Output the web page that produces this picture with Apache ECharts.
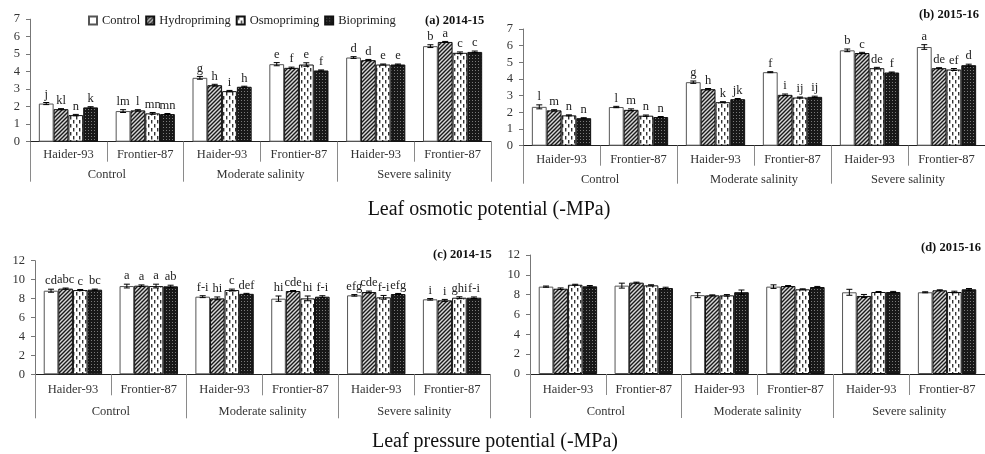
<!DOCTYPE html>
<html><head><meta charset="utf-8">
<script src="https://cdn.jsdelivr.net/npm/echarts@6/dist/echarts.min.js"></script>
<style>html,body{margin:0;padding:0;background:#fff}#c{width:985px;height:454px}</style>
</head><body><div id="c"></div>
<script>
// ---------- DATA ----------
const cultivars = ['Haider-93','Frontier-87','Haider-93','Frontier-87','Haider-93','Frontier-87'];
const salinity = ['Control','Moderate salinity','Severe salinity'];
const treatments = ['Control','Hydropriming','Osmopriming','Biopriming'];

// (a) Leaf osmotic potential 2014-15
const osmA_control = [2.18, 1.75, 3.65, 4.43, 4.81, 5.46];
const osmA_hydro   = [1.86, 1.79, 3.23, 4.22, 4.66, 5.70];
const osmA_osmo    = [1.52, 1.62, 2.89, 4.41, 4.41, 5.08];
const osmA_bio     = [1.96, 1.58, 3.14, 4.07, 4.41, 5.13];
const errA_control = [0.06, 0.08, 0.08, 0.09, 0.05, 0.08];
const errA_hydro   = [0.03, 0.04, 0.05, 0.04, 0.04, 0.03];
const errA_osmo    = [0.04, 0.05, 0.04, 0.10, 0.03, 0.05];
const errA_bio     = [0.04, 0.03, 0.03, 0.03, 0.03, 0.05];
const letA_control = ['j','lm','g','e','d','b'];
const letA_hydro   = ['kl','l','h','f','d','a'];
const letA_osmo    = ['n','mn','i','e','e','c'];
const letA_bio     = ['k','mn','h','f','e','c'];

// (b) Leaf osmotic potential 2015-16
const osmB_control = [2.33, 2.32, 3.81, 4.41, 5.72, 5.92];
const osmB_hydro   = [2.12, 2.15, 3.39, 3.05, 5.56, 4.65];
const osmB_osmo    = [1.82, 1.80, 2.61, 2.89, 4.65, 4.57];
const osmB_bio     = [1.65, 1.72, 2.79, 2.93, 4.39, 4.83];
const errB_control = [0.12, 0.04, 0.07, 0.03, 0.08, 0.14];
const errB_hydro   = [0.04, 0.06, 0.04, 0.05, 0.04, 0.03];
const errB_osmo    = [0.03, 0.04, 0.03, 0.03, 0.05, 0.06];
const errB_bio     = [0.03, 0.03, 0.04, 0.04, 0.03, 0.06];
const letB_control = ['l','l','g','f','b','a'];
const letB_hydro   = ['m','m','h','i','c','de'];
const letB_osmo    = ['n','n','k','ij','de','ef'];
const letB_bio     = ['n','n','jk','ij','f','d'];

// (c) Leaf pressure potential 2014-15
const prsC_control = [8.83, 9.32, 8.20, 7.99, 8.34, 7.92];
const prsC_hydro   = [9.05, 9.36, 8.02, 8.80, 8.69, 7.81];
const prsC_osmo    = [8.90, 9.32, 8.90, 8.02, 8.13, 8.09];
const prsC_bio     = [8.94, 9.29, 8.50, 8.20, 8.48, 8.09];
const errC_control = [0.16, 0.20, 0.10, 0.28, 0.08, 0.08];
const errC_hydro   = [0.06, 0.08, 0.15, 0.05, 0.10, 0.10];
const errC_osmo    = [0.06, 0.20, 0.10, 0.25, 0.20, 0.10];
const errC_bio     = [0.06, 0.12, 0.05, 0.10, 0.06, 0.08];
const letC_control = ['cd','a','f-i','hi','efg','i'];
const letC_hydro   = ['abc','a','hi','cde','cde','i'];
const letC_osmo    = ['c','a','c','hi','f-i','ghi'];
const letC_bio     = ['bc','ab','def','f-i','efg','f-i'];

// (d) Leaf pressure potential 2015-16
const prsD_control = [8.81, 8.91, 7.95, 8.81, 8.24, 8.24];
const prsD_hydro   = [8.60, 9.21, 7.93, 8.87, 7.87, 8.44];
const prsD_osmo    = [9.00, 8.94, 7.93, 8.54, 8.27, 8.27];
const prsD_bio     = [8.84, 8.67, 8.25, 8.77, 8.27, 8.54];
const errD_control = [0.06, 0.25, 0.25, 0.18, 0.30, 0.05];
const errD_hydro   = [0.08, 0.05, 0.05, 0.05, 0.15, 0.05];
const errD_osmo    = [0.05, 0.06, 0.08, 0.05, 0.05, 0.08];
const errD_bio     = [0.08, 0.08, 0.22, 0.06, 0.06, 0.08];

const yTicksOsm = [0,1,2,3,4,5,6,7];
const yTicksPrs = [0,2,4,6,8,10,12];

// ---------- STYLE ----------
const FONT = '"Liberation Serif", "DejaVu Serif", serif';
const GAP = 0.23;

function makeCanvas(w, h, draw) {
  const c = document.createElement('canvas');
  c.width = w; c.height = h;
  draw(c.getContext('2d'));
  return c;
}
const hatch = makeCanvas(4, 4, ctx => {
  ctx.fillStyle = '#d8d8d8'; ctx.fillRect(0,0,4,4);
  ctx.strokeStyle = '#1a1a1a'; ctx.lineWidth = 1.4;
  ctx.beginPath();
  ctx.moveTo(-1,5); ctx.lineTo(5,-1);
  ctx.moveTo(-1,1); ctx.lineTo(1,-1);
  ctx.moveTo(3,5); ctx.lineTo(5,3);
  ctx.stroke();
});
const dashes = makeCanvas(6, 8, ctx => {
  ctx.fillStyle = '#fff'; ctx.fillRect(0,0,6,8);
  ctx.fillStyle = '#333';
  ctx.fillRect(1,0,1.4,3.5);
  ctx.fillRect(4,4,1.4,3.5);
});
const dots = makeCanvas(3, 3, ctx => {
  ctx.fillStyle = '#181818'; ctx.fillRect(0,0,3,3);
  ctx.fillStyle = '#7a7a7a'; ctx.fillRect(1,1,1,1);
});
const fills = ['#ffffff', {image: hatch, repeat: 'repeat'}, {image: dashes, repeat: 'repeat'}, {image: dots, repeat: 'repeat'}];
const borders = ['#555', '#111', '#111', '#111'];

// ---------- PANELS ----------
const panels = [
  {grid:{left:30, top:19.2, width:461, height:122.5}, max:7, interval:1, ticks:yTicksOsm,
   vals:[osmA_control, osmA_hydro, osmA_osmo, osmA_bio], errs:[errA_control, errA_hydro, errA_osmo, errA_bio],
   lets:[letA_control, letA_hydro, letA_osmo, letA_bio], sub:20, grp:40, m1:7, m2:27},
  {grid:{left:523, top:29, width:462, height:116.7}, max:7, interval:1, ticks:yTicksOsm,
   vals:[osmB_control, osmB_hydro, osmB_osmo, osmB_bio], errs:[errB_control, errB_hydro, errB_osmo, errB_bio],
   lets:[letB_control, letB_hydro, letB_osmo, letB_bio], sub:20, grp:38, m1:7.5, m2:28},
  {grid:{left:35, top:260.7, width:455, height:113.6}, max:12, interval:2, ticks:yTicksPrs,
   vals:[prsC_control, prsC_hydro, prsC_osmo, prsC_bio], errs:[errC_control, errC_hydro, errC_osmo, errC_bio],
   lets:[letC_control, letC_hydro, letC_osmo, letC_bio], sub:21, grp:44, m1:8.5, m2:31},
  {grid:{left:530, top:255, width:456, height:119}, max:12, interval:2, ticks:yTicksPrs,
   vals:[prsD_control, prsD_hydro, prsD_osmo, prsD_bio], errs:[errD_control, errD_hydro, errD_osmo, errD_bio],
   lets:null, sub:21, grp:44, m1:9, m2:31.5}
];

const grids = [], xAxes = [], yAxes = [], series = [];
panels.forEach((p, i) => {
  grids.push(Object.assign({containLabel:false}, p.grid));
  xAxes.push({gridIndex:i, type:'category', data:cultivars, position:'bottom',
    axisLine:{show:true, lineStyle:{color:'#222', width:1}},
    axisTick:{show:true, alignWithLabel:false, interval:0, length:p.sub, lineStyle:{color:'#8a8a8a'}},
    axisLabel:{interval:0, margin:p.m1, fontFamily:FONT, fontSize:12.5, color:'#333'},
    splitLine:{show:false}});
  xAxes.push({gridIndex:i, type:'category', data:salinity, position:'bottom',
    axisLine:{show:false},
    axisTick:{show:true, alignWithLabel:false, interval:0, length:p.grp, lineStyle:{color:'#8a8a8a'}},
    axisLabel:{interval:0, margin:p.m2, fontFamily:FONT, fontSize:12.5, color:'#333'},
    splitLine:{show:false}});
  yAxes.push({gridIndex:i, type:'value', min:0, max:p.max, interval:p.interval,
    axisLine:{show:true, lineStyle:{color:'#777'}},
    axisTick:{show:true, length:4, lineStyle:{color:'#777'}},
    axisLabel:{margin:10, fontFamily:FONT, fontSize:12.5, color:'#333',
      formatter: v => (p.ticks.indexOf(v) >= 0 ? String(v) : '')},
    splitLine:{show:false}});
  treatments.forEach((t, k) => {
    series.push({name:t, type:'bar', xAxisIndex:2*i, yAxisIndex:i,
      barGap:'0%', barCategoryGap:(GAP*100)+'%',
      itemStyle:{color:fills[k], borderColor:borders[k], borderWidth:1},
      emphasis:{disabled:true},
      data:p.vals[k]});
  });
  const cdata = [];
  for (let k = 0; k < 4; k++) for (let c = 0; c < 6; c++) cdata.push([c, p.vals[k][c], p.errs[k][c], k]);
  const lets = p.lets;
  series.push({type:'custom', xAxisIndex:2*i, yAxisIndex:i, z:5, silent:true,
    encode:{x:0, y:1},
    data:cdata,
    renderItem:(params, api) => {
      const c = api.value(0), v = api.value(1), e = api.value(2), k = api.value(3);
      const bw = api.size([1, 0])[0];
      const barW = bw * (1 - GAP) / 4;
      const top = api.coord([c, v + e]);
      const bot = api.coord([c, v - e]);
      const x = top[0] + (k - 1.5) * barW;
      const cap = 3;
      const st = {stroke:'#000', lineWidth:1};
      const ch = [
        {type:'line', shape:{x1:x, y1:top[1], x2:x, y2:bot[1]}, style:st},
        {type:'line', shape:{x1:x-cap, y1:top[1], x2:x+cap, y2:top[1]}, style:st},
        {type:'line', shape:{x1:x-cap, y1:bot[1], x2:x+cap, y2:bot[1]}, style:st}
      ];
      if (lets) {
        ch.push({type:'text', x:x, y:top[1]-1.5,
          style:{text:lets[k][c], textAlign:'center', verticalAlign:'bottom', textVerticalAlign:'bottom',
            font:'12.5px ' + FONT, fill:'#222'}});
      }
      return {type:'group', children:ch};
    }});
});

const chart = echarts.init(document.getElementById('c'), null, {renderer:'canvas'});
chart.setOption({
  animation:false,
  backgroundColor:'#fff',
  legend:{data:treatments, left:88, top:14, itemWidth:8, itemHeight:8, itemGap:5, icon:'rect',
    padding:0, textStyle:{fontFamily:FONT, fontSize:12.5, color:'#222'}, selectedMode:false},
  grid:grids, xAxis:xAxes, yAxis:yAxes, series:series,
  graphic:[
    {type:'text', x:425, y:21, style:{text:'(a) 2014-15', font:'bold 12.5px ' + FONT, fill:'#111', verticalAlign:'middle', textVerticalAlign:'middle'}},
    {type:'text', x:919, y:15, style:{text:'(b) 2015-16', font:'bold 12.5px ' + FONT, fill:'#111', verticalAlign:'middle', textVerticalAlign:'middle'}},
    {type:'text', x:433, y:255, style:{text:'(c) 2014-15', font:'bold 12.5px ' + FONT, fill:'#111', verticalAlign:'middle', textVerticalAlign:'middle'}},
    {type:'text', x:921, y:248, style:{text:'(d) 2015-16', font:'bold 12.5px ' + FONT, fill:'#111', verticalAlign:'middle', textVerticalAlign:'middle'}},
    {type:'text', x:489, y:210, style:{text:'Leaf osmotic potential (-MPa)', font:'20px ' + FONT, fill:'#111', textAlign:'center', verticalAlign:'middle', textVerticalAlign:'middle'}},
    {type:'text', x:495, y:442, style:{text:'Leaf pressure potential (-MPa)', font:'20px ' + FONT, fill:'#111', textAlign:'center', verticalAlign:'middle', textVerticalAlign:'middle'}}
  ]
});
</script></body></html>
